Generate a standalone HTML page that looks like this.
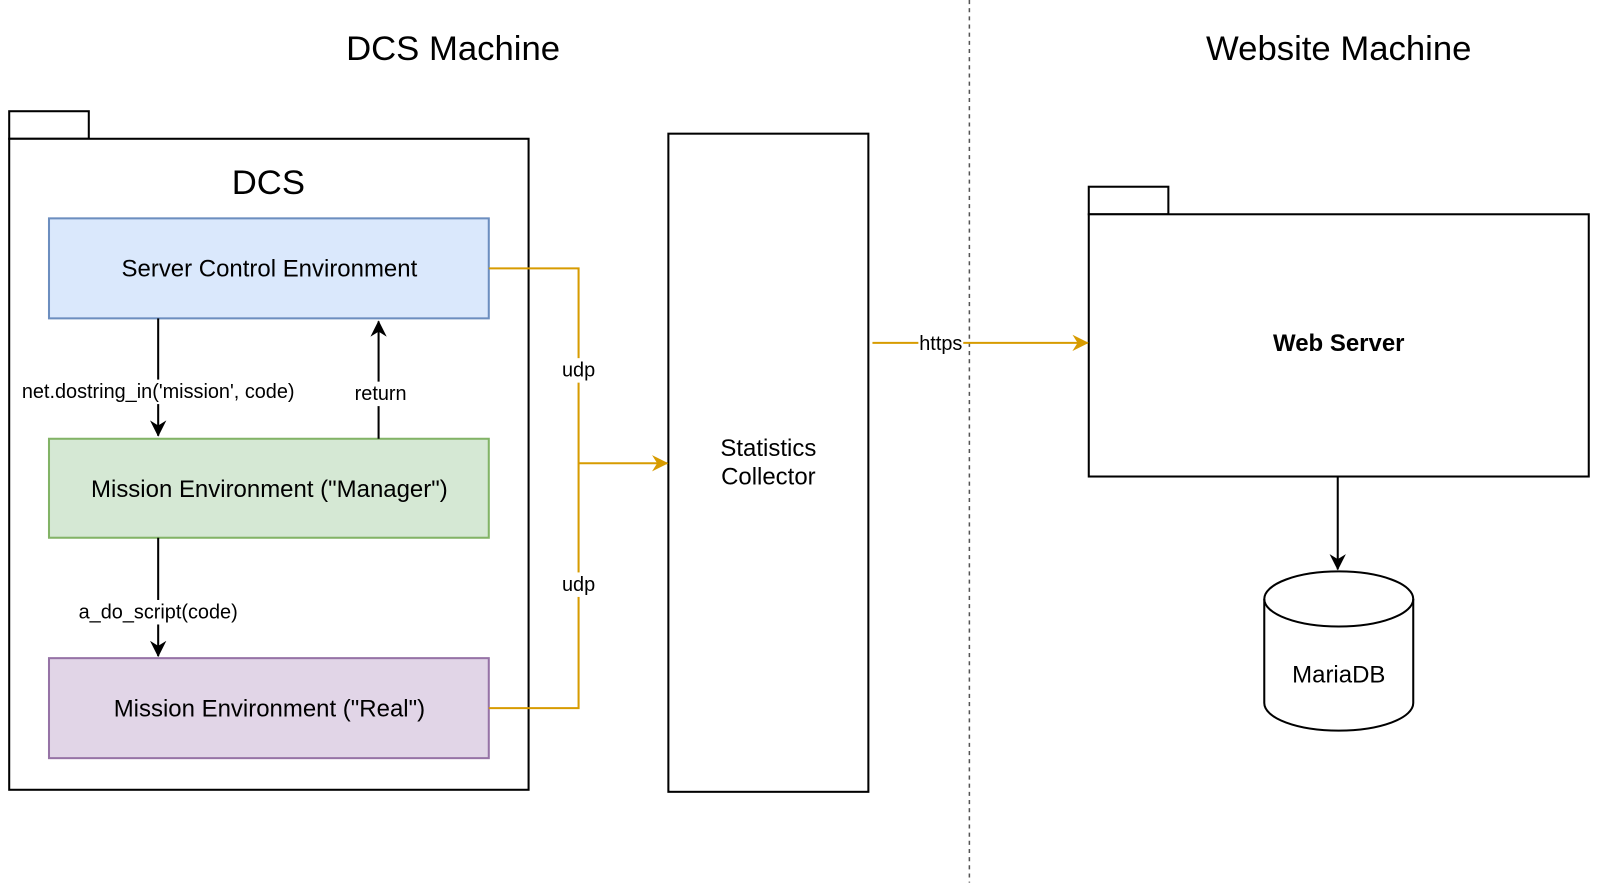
<!DOCTYPE html>
<html><head><meta charset="utf-8"><style>html,body{margin:0;padding:0;background:#fff;}svg{display:block}</style></head>
<body>
<svg width="1600" height="886" viewBox="0 0 1568 868.3" xmlns="http://www.w3.org/2000/svg" font-family="Liberation Sans, Arial, sans-serif">
<defs>
<marker id="ao" markerWidth="16" markerHeight="16" refX="15" refY="8" orient="auto" markerUnits="userSpaceOnUse"><path d="M0,0 L16,8 L0,16 L5,8 Z" fill="#d79b00"/></marker>
<marker id="ab2" markerWidth="16" markerHeight="16" refX="15" refY="8" orient="auto" markerUnits="userSpaceOnUse"><path d="M0,0 L16,8 L0,16 L5,8 Z" fill="#000"/></marker>
</defs>
<text x="444" y="59" font-size="34" text-anchor="middle">DCS Machine</text>
<text x="1312" y="59" font-size="34" text-anchor="middle">Website Machine</text>
<line x1="950" y1="0" x2="950" y2="865" stroke="#555" stroke-width="1.5" stroke-dasharray="4,4"/>
<g fill="#fff" stroke="#000" stroke-width="2">
<rect x="9" y="109" width="78" height="27"/>
<rect x="9" y="136" width="509" height="638"/>
<rect x="655" y="131" width="196" height="645"/>
<rect x="1067" y="183" width="78" height="27"/>
<rect x="1067" y="210" width="490" height="257"/>
</g>
<text x="263" y="190" font-size="34" text-anchor="middle">DCS</text>
<rect x="48" y="214" width="431" height="98" fill="#dae8fc" stroke="#6c8ebf" stroke-width="2"/>
<rect x="48" y="430" width="431" height="97" fill="#d5e8d4" stroke="#82b366" stroke-width="2"/>
<rect x="48" y="645" width="431" height="98" fill="#e1d5e7" stroke="#9673a6" stroke-width="2"/>
<g stroke="#000" stroke-width="2" fill="#fff">
<path d="M1239,587 A73,27 0 0 1 1385,587 L1385,689 A73,27 0 0 1 1239,689 Z"/>
<path d="M1239,587 A73,27 0 0 0 1385,587" fill="none"/>
</g>
<g font-size="23.5" text-anchor="middle">
<text x="264" y="271">Server Control Environment</text>
<text x="264" y="487">Mission Environment ("Manager")</text>
<text x="264" y="702">Mission Environment ("Real")</text>
<text x="753" y="447">Statistics</text>
<text x="753" y="475">Collector</text>
<text x="1312" y="344" font-weight="bold">Web Server</text>
<text x="1312" y="669">MariaDB</text>
</g>
<g stroke="#000" stroke-width="2" fill="none">
<line x1="155" y1="312" x2="155" y2="427" marker-end="url(#ab2)"/>
<line x1="371" y1="430" x2="371" y2="315" marker-end="url(#ab2)"/>
<line x1="155" y1="527" x2="155" y2="643" marker-end="url(#ab2)"/>
<line x1="1311" y1="467" x2="1311" y2="558" marker-end="url(#ab2)"/>
</g>
<g stroke="#d79b00" stroke-width="2" fill="none">
<polyline points="479,263 567,263 567,694 479,694"/>
<line x1="567" y1="454" x2="654" y2="454" marker-end="url(#ao)"/>
<line x1="855" y1="336" x2="1066" y2="336" marker-end="url(#ao)"/>
</g>
<g font-size="19.5" text-anchor="middle">
<rect x="18" y="372" width="276" height="24" fill="#fff"/>
<text x="155" y="390">net.dostring_in('mission', code)</text>
<rect x="343" y="374" width="58" height="24" fill="#fff"/>
<text x="373" y="392">return</text>
<rect x="73" y="588" width="166" height="24" fill="#fff"/>
<text x="155" y="606">a_do_script(code)</text>
<rect x="548" y="351" width="38" height="24" fill="#fff"/>
<text x="567" y="369">udp</text>
<rect x="548" y="561" width="38" height="24" fill="#fff"/>
<text x="567" y="579">udp</text>
<rect x="900" y="326" width="44" height="22" fill="#fff"/>
<text x="922" y="343">https</text>
</g>
</svg>
</body></html>
